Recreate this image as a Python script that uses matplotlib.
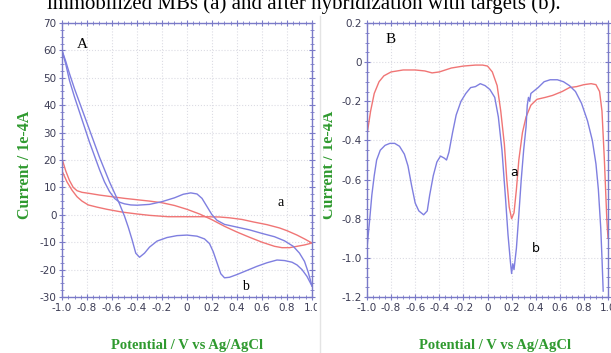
import numpy as np
import matplotlib
matplotlib.use("Agg")
import matplotlib.pyplot as plt
from matplotlib.ticker import MultipleLocator, AutoMinorLocator
from matplotlib.lines import Line2D

# ---- panel A : cyclic voltammograms ----
a_red_fwd_x = [-1.0, -0.97, -0.94, -0.91, -0.88, -0.84, -0.78, -0.70, -0.60, -0.50, -0.40, -0.30,
               -0.20, -0.10, 0.0, 0.10, 0.20, 0.30, 0.40, 0.50, 0.60, 0.70, 0.76, 0.82, 0.88, 0.94, 1.0]
a_red_fwd_y = [20.5, 16, 12.5, 10, 8.8, 8.2, 7.8, 7.2, 6.6, 6.0, 5.5, 5.0,
               4.4, 3.4, 2.0, 0.3, -1.8, -4.2, -6.3, -8.2, -10, -11.5, -12, -12, -11.5, -11, -10.3]
a_red_rev_x = [1.0, 0.94, 0.88, 0.80, 0.74, 0.64, 0.53, 0.44, 0.34, 0.26, 0.15, 0.0, -0.15,
               -0.30, -0.40, -0.52, -0.64, -0.72, -0.79, -0.84, -0.88, -0.92, -0.96, -1.0]
a_red_rev_y = [-10.3, -8.8, -7.4, -5.8, -4.8, -3.6, -2.6, -1.7, -1.1, -0.8, -0.7, -0.7, -0.7,
               -0.2, 0.3, 1.0, 2.0, 2.8, 3.6, 5.0, 6.6, 9.0, 12, 16]

a_blue_fwd_x = [-1.0, -0.97, -0.94, -0.90, -0.86, -0.82, -0.78, -0.74, -0.70, -0.66, -0.62, -0.58,
                -0.54, -0.50, -0.45, -0.40, -0.30, -0.20, -0.10, -0.03, 0.03, 0.08, 0.12, 0.16,
                0.20, 0.24, 0.30, 0.40, 0.50, 0.60, 0.70, 0.78, 0.85, 0.90, 0.94, 0.97, 1.0]
a_blue_fwd_y = [60, 55, 49, 43, 37.5, 32, 26.5, 21.5, 16.5, 12, 8.5, 6.0,
                4.6, 4.0, 3.6, 3.5, 3.8, 4.8, 6.2, 7.5, 8.0, 7.6, 6.0, 3.0,
                0.0, -2.0, -3.5, -4.5, -5.5, -6.8, -8.0, -9.5, -11.5, -14, -17, -21, -26]
a_blue_rev_x = [1.0, 0.96, 0.92, 0.88, 0.84, 0.78, 0.72, 0.64, 0.56, 0.48, 0.40, 0.34, 0.30,
                0.27, 0.24, 0.21, 0.18, 0.14, 0.08, 0.0, -0.08, -0.16, -0.24, -0.30, -0.34,
                -0.38, -0.41, -0.44, -0.47, -0.50, -0.54, -0.58, -0.62, -0.66, -0.70, -0.74,
                -0.78, -0.82, -0.86, -0.90, -0.94, -0.97, -1.0]
a_blue_rev_y = [-26, -22.5, -20, -18.3, -17.3, -16.7, -16.5, -17.5, -18.8, -20.3, -21.8, -22.8, -23,
                -21.5, -17.5, -13.5, -10.5, -8.8, -7.8, -7.4, -7.6, -8.3, -9.6, -11.8, -14,
                -15.5, -14, -9, -4.5, -0.5, 4.0, 8.0, 12, 16.5, 21, 26,
                31, 36, 41, 46, 51.5, 56, 60]

# ---- panel B : differential pulse voltammograms ----
b_red_x = [-1.0, -0.97, -0.94, -0.90, -0.86, -0.80, -0.70, -0.60, -0.52, -0.46, -0.40, -0.30, -0.20,
           -0.10, -0.04, 0.0, 0.04, 0.08, 0.11, 0.14, 0.16, 0.18, 0.20, 0.22, 0.24, 0.26, 0.29,
           0.32, 0.36, 0.41, 0.48, 0.54, 0.62, 0.68, 0.74, 0.80, 0.86, 0.90, 0.93, 0.95, 0.97,
           0.99, 1.0]
b_red_y = [-0.37, -0.25, -0.16, -0.10, -0.07, -0.05, -0.04, -0.04, -0.045, -0.055, -0.05, -0.03, -0.02,
           -0.015, -0.015, -0.02, -0.05, -0.12, -0.25, -0.42, -0.60, -0.74, -0.80, -0.77, -0.65, -0.50, -0.36,
           -0.28, -0.22, -0.19, -0.18, -0.17, -0.15, -0.13, -0.125, -0.115, -0.11, -0.115, -0.15, -0.25, -0.50,
           -0.80, -0.90]
b_blue_x = [-1.0, -0.98, -0.96, -0.94, -0.92, -0.89, -0.85, -0.81, -0.77, -0.73, -0.69, -0.66, -0.63,
            -0.60, -0.57, -0.53, -0.50, -0.48, -0.45, -0.42, -0.39, -0.36, -0.34, -0.32, -0.29, -0.26,
            -0.22, -0.18, -0.14, -0.10, -0.06, -0.02, 0.02, 0.06, 0.09, 0.12, 0.15, 0.17, 0.19, 0.20,
            0.21, 0.22, 0.24, 0.26, 0.28, 0.30, 0.32, 0.33, 0.34, 0.35, 0.36, 0.38, 0.42, 0.47, 0.52,
            0.58, 0.63, 0.68, 0.73, 0.78, 0.83, 0.87, 0.90, 0.92, 0.94, 0.95, 0.96]
b_blue_y = [-0.95, -0.82, -0.68, -0.58, -0.50, -0.45, -0.425, -0.415, -0.415, -0.43, -0.47, -0.53, -0.63,
            -0.72, -0.76, -0.78, -0.76, -0.68, -0.58, -0.51, -0.48, -0.49, -0.50, -0.46, -0.36, -0.27,
            -0.20, -0.16, -0.13, -0.125, -0.11, -0.12, -0.14, -0.18, -0.28, -0.45, -0.70, -0.88, -1.02, -1.08,
            -1.03, -1.06, -0.95, -0.78, -0.60, -0.45, -0.33, -0.22, -0.18, -0.20, -0.16, -0.15, -0.13, -0.10, -0.09,
            -0.09, -0.10, -0.12, -0.15, -0.21, -0.30, -0.40, -0.52, -0.65, -0.85, -1.00, -1.17]

a_xticks = [-1.0, -0.8, -0.6, -0.4, -0.2, 0.0, 0.2, 0.4, 0.6, 0.8, 1.0]
a_xlabels = ["-1.0", "-0.8", "-0.6", "-0.4", "-0.2", "0", "0.2", "0.4", "0.6", "0.8", "1.0"]
a_yticks = [70, 60, 50, 40, 30, 20, 10, 0, -10, -20, -30]
b_yticks = [0.2, 0.0, -0.2, -0.4, -0.6, -0.8, -1.0, -1.2]
b_ylabels = ["0.2", "0", "-0.2", "-0.4", "-0.6", "-0.8", "-1.0", "-1.2"]

caption = "immobilized MBs (a) and after hybridization with targets (b)."

BLUE = "#7f7fe0"
RED = "#f07575"
SPINE = "#7a7ac8"
GREEN = "#2f9a2f"
TICKC = "#3c3c55"
NARROW = ["Liberation Sans Narrow", "DejaVu Sans"]
W, H = 611, 353

fig = plt.figure(figsize=(W / 100, H / 100), dpi=100)
fig.patch.set_facecolor("white")

def px(l, t, r, b):
    return [l / W, 1 - b / H, (r - l) / W, (b - t) / H]

axA = fig.add_axes(px(62, 23, 312, 297))
axB = fig.add_axes(px(367, 23, 608, 297))

def style(ax, ymin, ymax, ymaj):
    ax.set_xlim(-1.0, 1.0)
    ax.set_ylim(ymin, ymax)
    ax.xaxis.set_major_locator(MultipleLocator(0.2))
    ax.xaxis.set_minor_locator(AutoMinorLocator(4))
    ax.yaxis.set_major_locator(MultipleLocator(ymaj))
    ax.yaxis.set_minor_locator(AutoMinorLocator(4))
    for s in ax.spines.values():
        s.set_color(SPINE)
        s.set_linewidth(1.0)
    ax.tick_params(which="both", direction="inout", color=SPINE, top=True, right=True,
                   labelsize=7.5, labelcolor=TICKC, pad=2)
    ax.tick_params(which="major", length=4)
    ax.tick_params(which="minor", length=2.5)
    ax.grid(True, which="major", color="#dcdce4", linestyle=":", linewidth=0.8)
    ax.set_axisbelow(True)

style(axA, -30, 70, 10)
axA.set_xticks(a_xticks)
axA.set_xticklabels(a_xlabels, family=NARROW)
axA.set_yticks(a_yticks)
axA.set_yticklabels([str(v) for v in a_yticks], family=NARROW)
axA.plot(a_red_fwd_x, a_red_fwd_y, color=RED, lw=1.0)
axA.plot(a_red_rev_x, a_red_rev_y, color=RED, lw=1.0)
axA.plot(a_blue_fwd_x, a_blue_fwd_y, color=BLUE, lw=1.0)
axA.plot(a_blue_rev_x, a_blue_rev_y, color=BLUE, lw=1.0)
axA.text(-0.88, 62, "A", family="Liberation Serif", fontsize=11, va="center")
axA.text(0.72, 4.5, "a", family="Liberation Serif", fontsize=10, va="center")
axA.text(0.44, -26, "b", family="Liberation Serif", fontsize=10, va="center")

style(axB, -1.2, 0.2, 0.2)
axB.set_xticks(a_xticks)
axB.set_xticklabels(a_xlabels, family=NARROW)
axB.set_yticks(b_yticks)
axB.set_yticklabels(b_ylabels, family=NARROW)
axB.plot(b_red_x, b_red_y, color=RED, lw=1.0)
axB.plot(b_blue_x, b_blue_y, color=BLUE, lw=1.0)
axB.text(-0.85, 0.115, "B", family="Liberation Serif", fontsize=11, va="center")
axB.text(0.19, -0.565, "a", family="DejaVu Sans", fontsize=9, va="center")
axB.text(0.37, -0.95, "b", family="DejaVu Sans", fontsize=9, va="center")

lab_kw = dict(family="Liberation Serif", fontweight="bold", color=GREEN)
fig.text(187 / W, 1 - 346 / H, "Potential / V vs Ag/AgCl", ha="center", va="center", fontsize=10.5, **lab_kw)
fig.text(25 / W, 1 - 165 / H, "Current / 1e-4A", ha="center", va="center", rotation=90, fontsize=11.5, **lab_kw)
fig.text(495 / W, 1 - 346 / H, "Potential / V vs Ag/AgCl", ha="center", va="center", fontsize=10.5, **lab_kw)
fig.text(329 / W, 1 - 165 / H, "Current / 1e-4A", ha="center", va="center", rotation=90, fontsize=11.5, **lab_kw)

# scanned caption line, partly cut off at the top edge as in the scan
fig.text(47 / W, 1 - 9 / H, caption, family="Liberation Serif", fontsize=15, va="baseline")

# separator between the two scanned panels
fig.patches.append(plt.Rectangle((317 / W, 14 / H), 5 / W, 1 - 14 / H - 16 / H,
                                 transform=fig.transFigure, color="white", zorder=5))
fig.lines.append(Line2D([319.5 / W, 319.5 / W], [0, 1 - 16 / H], transform=fig.transFigure,
                        color="#e4e4e4", lw=1.0, zorder=6))

fig.savefig("out.png", dpi=100)
